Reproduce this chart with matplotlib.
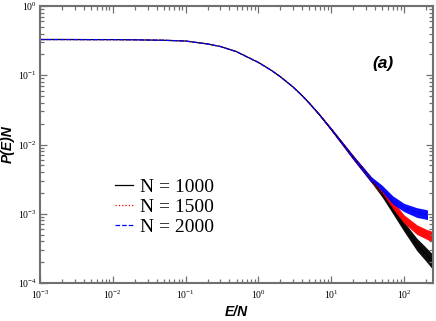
import numpy as np
import matplotlib
matplotlib.use("Agg")
import matplotlib.pyplot as plt
from matplotlib.ticker import LogLocator, NullFormatter

# ---- data ----
E_common = [1e-3, 2e-3, 5e-3, 1e-2, 2e-2, 5e-2, 0.1, 0.2, 0.3, 0.5, 0.7,
            1.0, 1.5, 2.0, 3.0, 4.0, 5.0, 7.0, 10.0, 15.0, 20.0, 27.0, 35.0]
P_common = [0.328, 0.328, 0.327, 0.327, 0.325, 0.320, 0.312, 0.283, 0.260,
            0.219, 0.184, 0.153, 0.118, 0.0953, 0.0675, 0.0506, 0.0395,
            0.0264, 0.0166, 0.0096, 0.0065, 0.00442, 0.00316]
W_common = [0, 0, 0, 0, 0, 0, 0, 0, 0, 0, 0, 0,
            0.002, 0.003, 0.004, 0.006, 0.008, 0.012, 0.018, 0.025, 0.03,
            0.035, 0.04]

E_tail_1000 = [50, 70, 100, 150, 200, 250]
P_tail_1000 = [0.00195, 0.00115, 6.5e-4, 3.6e-4, 2.6e-4, 2.0e-4]
W_tail_1000 = [0.05, 0.06, 0.07, 0.09, 0.10, 0.11]

E_tail_1500 = [50, 70, 100, 150, 200, 250]
P_tail_1500 = [0.0021, 0.00134, 8.4e-4, 5.9e-4, 5.1e-4, 4.6e-4]
W_tail_1500 = [0.05, 0.06, 0.06, 0.07, 0.07, 0.08]

E_tail_2000 = [50, 70, 100, 150, 200, 210]
P_tail_2000 = [0.0023, 0.00158, 1.23e-3, 1.04e-3, 9.8e-4, 9.6e-4]
W_tail_2000 = [0.05, 0.06, 0.06, 0.07, 0.07, 0.07]

labels = ["N = 1000", "N = 1500", "N = 2000"]
colors = ["black", "red", "blue"]
styles = ["-", ":", "--"]

plt.rcParams['mathtext.fontset'] = 'custom'
plt.rcParams['mathtext.rm'] = 'Liberation Serif'
plt.rcParams['mathtext.it'] = 'Liberation Serif:italic'

fig = plt.figure(figsize=(4.36, 3.21), dpi=100)
ax = fig.add_axes([40/436, 1-283/321, 393/436, 277/321])

tails = [(E_tail_1000, P_tail_1000, W_tail_1000),
         (E_tail_1500, P_tail_1500, W_tail_1500),
         (E_tail_2000, P_tail_2000, W_tail_2000)]

handles = []
for (Et, Pt, Wt), c, ls, lab in zip(tails, colors, styles, labels):
    E = np.array(E_common + Et)
    P = np.array(P_common + Pt)
    W = np.array(W_common + Wt)
    ax.fill_between(E, P * 10**(-W), P * 10**W, color=c, lw=0, alpha=0.95)
    h, = ax.plot(E, P, color=c, ls=ls, lw=0.9, label=lab)
    handles.append(h)

ax.set_xscale('log')
ax.set_yscale('log')
ax.set_xlim(1e-3, 250)
ax.set_ylim(1e-4, 1)

ax.xaxis.set_major_locator(LogLocator(base=10, numticks=20))
ax.yaxis.set_major_locator(LogLocator(base=10, numticks=20))
ax.xaxis.set_minor_locator(LogLocator(base=10, subs=np.arange(2, 10), numticks=50))
ax.yaxis.set_minor_locator(LogLocator(base=10, subs=np.arange(2, 10), numticks=50))
ax.xaxis.set_minor_formatter(NullFormatter())
ax.yaxis.set_minor_formatter(NullFormatter())

gray = '#707070'
for s in ax.spines.values():
    s.set_color(gray)
    s.set_linewidth(1.5)
ax.tick_params(which='both', direction='in', top=True, right=True, color=gray,
               labelsize=7, width=0.9)
ax.tick_params(which='major', length=5)
ax.tick_params(which='minor', length=3)
ax.tick_params(axis='y', pad=2.5)
ax.tick_params(axis='x', pad=4)
for t in ax.get_xticklabels() + ax.get_yticklabels():
    t.set_fontfamily('Liberation Serif')

ax.set_xlabel('E/N', fontfamily='Liberation Sans', fontweight='bold',
              fontstyle='italic', fontsize=10, labelpad=3)
ax.set_ylabel('P(E)N', fontfamily='Liberation Sans', fontweight='bold',
              fontstyle='italic', fontsize=10, labelpad=2)

ax.text(0.873, 0.794, '(a)', transform=ax.transAxes, ha='center', va='center',
        fontfamily='Liberation Sans', fontweight='bold', fontstyle='italic',
        fontsize=12.5)

leg = fig.legend(handles=handles, loc='center left',
                 bbox_to_anchor=(115/436, 1-207/321), frameon=False,
                 prop={'family': 'Liberation Serif', 'size': 14},
                 handlelength=0.9, handletextpad=0.4, labelspacing=0.12,
                 borderpad=0, borderaxespad=0)

fig.savefig('out.png', dpi=100)
